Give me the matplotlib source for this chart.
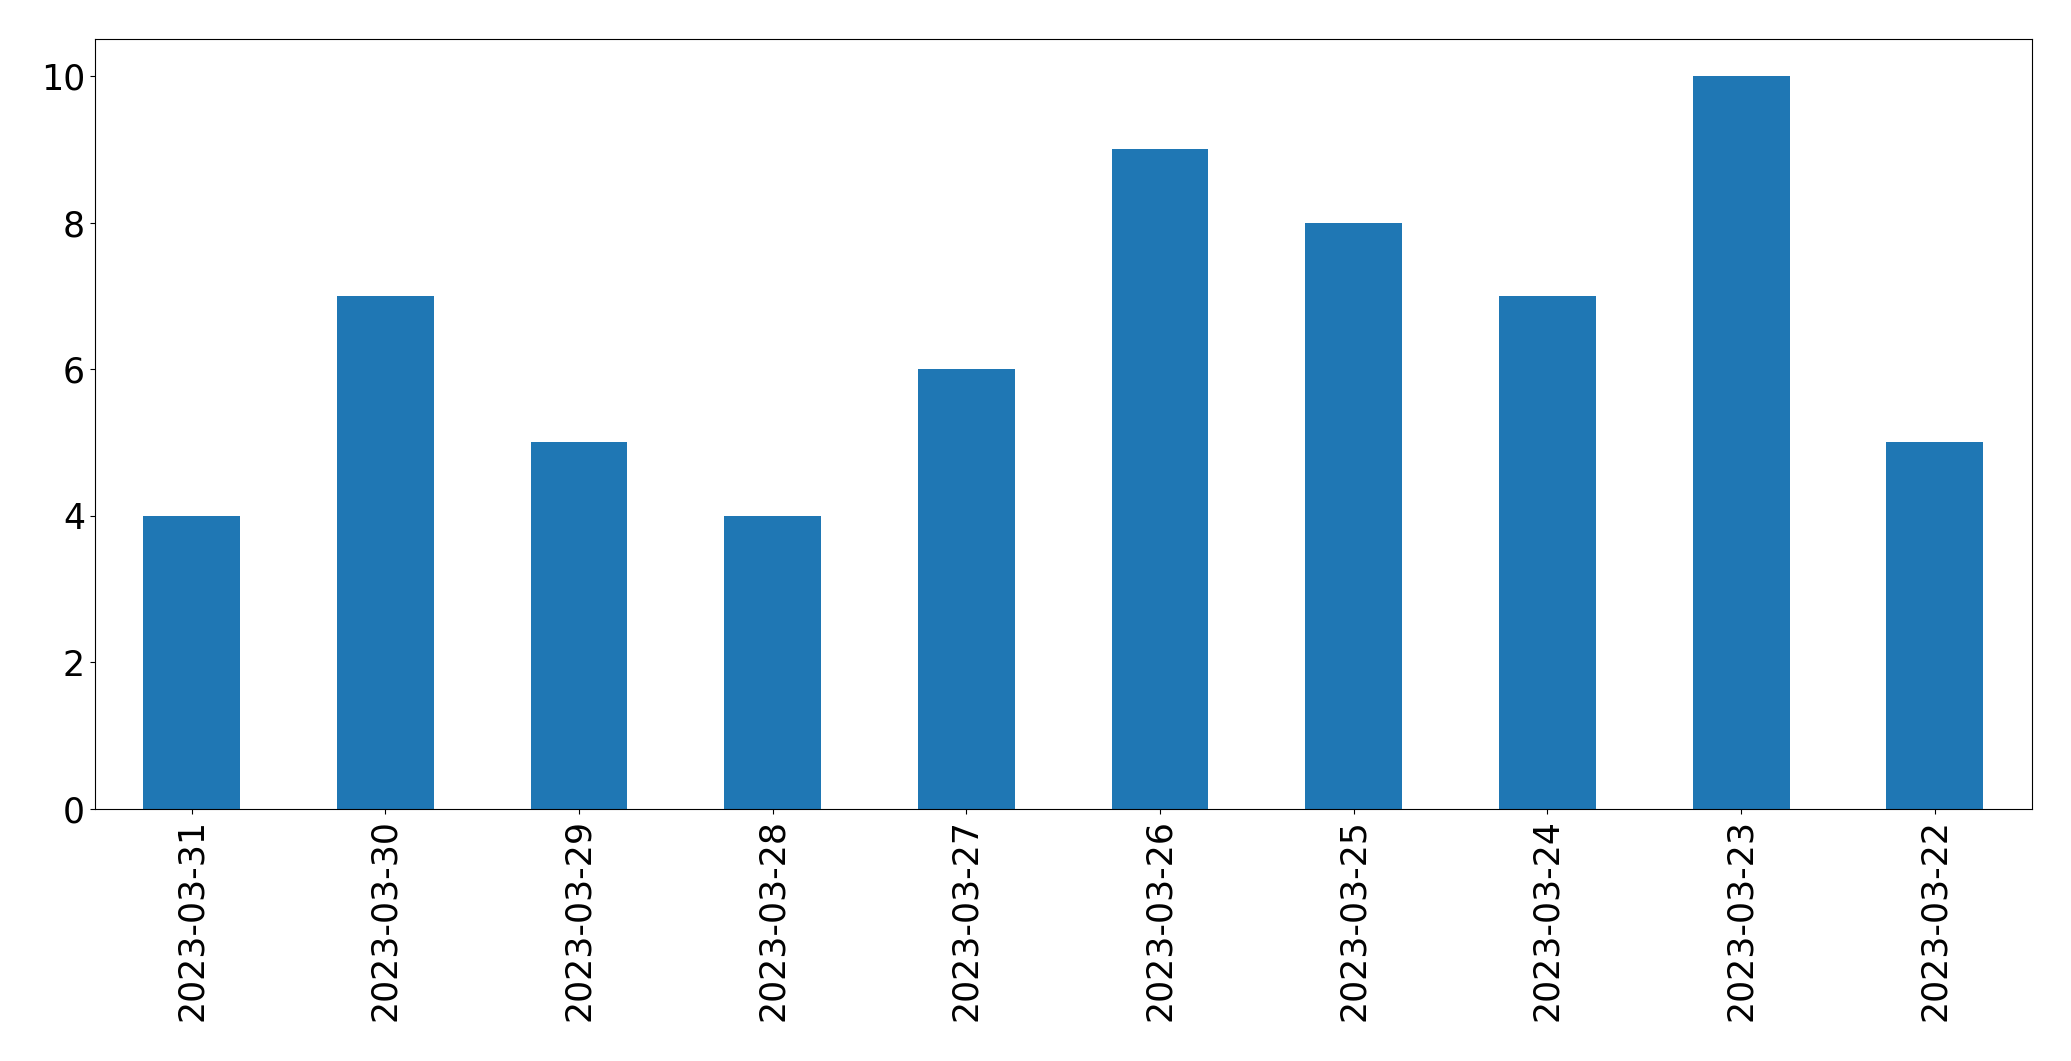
import matplotlib
matplotlib.use('Agg')
import matplotlib.pyplot as plt
import pandas as pd

dates = ['2023-03-31', '2023-03-30', '2023-03-29', '2023-03-28', '2023-03-27',
         '2023-03-26', '2023-03-25', '2023-03-24', '2023-03-23', '2023-03-22']
counts = [4, 7, 5, 4, 6, 9, 8, 7, 10, 5]

fig = plt.figure(figsize=(20.71, 10.61), dpi=100)
ax = fig.add_axes([94.7 / 2071, 1 - 809 / 1061, (2031.7 - 94.7) / 2071, (809 - 39.3) / 1061])

s = pd.Series(counts, index=dates)
s.plot(kind='bar', ax=ax, color='#1f77b4')

ax.tick_params(axis='both', labelsize=25)
for lbl in ax.get_xticklabels():
    lbl.set_rotation(90)

fig.savefig('out.png', dpi=100)
